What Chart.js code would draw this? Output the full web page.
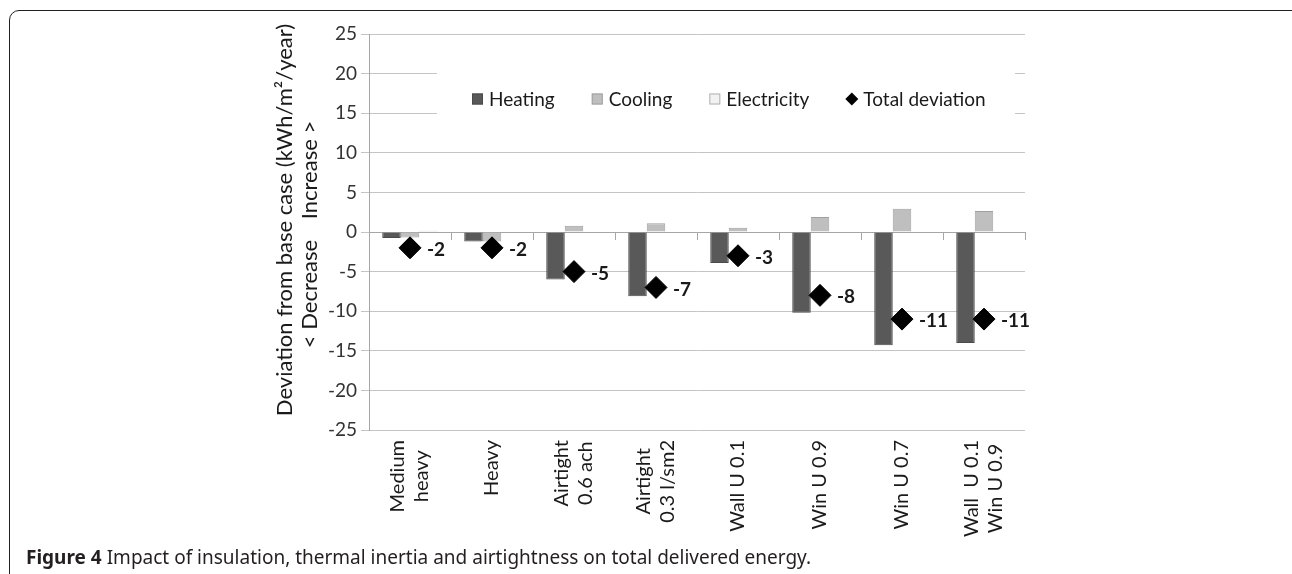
<!DOCTYPE html>
<html>
<head>
<meta charset="utf-8">
<script src="https://cdn.jsdelivr.net/npm/chart.js@4/dist/chart.umd.min.js"></script>
<style>
  html, body { margin: 0; padding: 0; background: #fff; }
  body { width: 1292px; height: 574px; overflow: hidden; position: relative; }
  .frame { position: absolute; left: 9px; top: 10px; width: 1300px; height: 620px;
           border: 1.6px solid #231f20; border-radius: 10px; box-sizing: border-box; }
  .plot { position: absolute; left: 0; top: 0; width: 1292px; height: 574px; }
  .caption { position: absolute; left: 26px; top: 545px; font-family: "Noto Sans", sans-serif;
             font-size: 19px; line-height: 24px; color: #231f20; white-space: nowrap; }
  .caption b { font-weight: 700; }
</style>
</head>
<body>
<div class="frame"></div>
<div class="plot"><canvas id="chart"></canvas></div>
<div class="caption"><b>Figure 4</b> Impact of insulation, thermal inertia and airtightness on total delivered energy.</div>
<script>
// Scenario categories (multi-line axis labels)
const categories = [
  ['Medium', 'heavy'],
  ['Heavy'],
  ['Airtight', '0.6 ach'],
  ['Airtight', '0.3 l/sm2'],
  ['Wall U 0.1'],
  ['Win U 0.9'],
  ['Win U 0.7'],
  ['Wall  U 0.1', 'Win U 0.9']
];

// Deviation from base case, kWh/m²/year
const heating        = [-0.75, -1.2, -6.0, -8.1, -3.9, -10.2, -14.3, -14.0];
const cooling        = [-0.7,  -1.2,  0.8,  1.1,  0.55,  1.9,   2.95,  2.65];
const electricity    = [ 0.15,  0.1,  0,    0,    0,     0,     0,     0];
const totalDeviation = [-2, -2, -5, -7, -3, -8, -11, -11];

// Value axis range and tick step
const yMin = -25;
const yMax = 25;
const yStep = 5;

const seriesNames = ['Heating', 'Cooling', 'Electricity', 'Total deviation'];
const yTitle = 'Deviation from base case (kWh/m\u00b2/year)';
const yTitleUp = 'Increase >';
const yTitleDown = '< Decrease';

const FONT = 'Lato, "Noto Sans", sans-serif';
const TEXT = '#1a1a1a';

// Rotated, centred multi-line category labels under the plot
const categoryLabels = {
  id: 'categoryLabels',
  afterDraw(chart) {
    const ctx = chart.ctx;
    const xs = chart.scales.x;
    const top = chart.chartArea.bottom + 10;
    const lh = 24;
    ctx.save();
    ctx.font = '20px ' + FONT;
    ctx.fillStyle = TEXT;
    ctx.textAlign = 'center';
    ctx.textBaseline = 'middle';
    chart.data.labels.forEach((lines, i) => {
      const px = xs.getPixelForValue(i);
      const n = lines.length;
      const maxW = Math.max(...lines.map(l => ctx.measureText(l).width));
      lines.forEach((line, k) => {
        ctx.save();
        ctx.translate(px + (k - (n - 1) / 2) * lh, top + maxW / 2);
        ctx.rotate(-Math.PI / 2);
        ctx.fillText(line, 0, 0);
        ctx.restore();
      });
    });
    ctx.restore();
  }
};

// Two-line value axis title
const valueTitle = {
  id: 'valueTitle',
  afterDraw(chart) {
    const ctx = chart.ctx;
    const ys = chart.scales.y;
    const zero = ys.getPixelForValue(0);
    ctx.save();
    ctx.font = '22px ' + FONT;
    ctx.fillStyle = TEXT;
    ctx.textAlign = 'center';
    ctx.textBaseline = 'middle';
    const put = (text, x, y) => {
      ctx.save();
      ctx.translate(x, y);
      ctx.rotate(-Math.PI / 2);
      ctx.fillText(text, 0, 0);
      ctx.restore();
    };
    put(yTitle, 285, 220);
    put(yTitleUp, 310, zero - 62);
    put(yTitleDown, 310, zero + 62);
    ctx.restore();
  }
};

// Legend drawn inside the plot on a white panel
const insideLegend = {
  id: 'insideLegend',
  afterDraw(chart) {
    const ctx = chart.ctx;
    ctx.save();
    ctx.fillStyle = '#ffffff';
    ctx.fillRect(437, 62, 578, 64);
    ctx.font = '19px ' + FONT;
    ctx.textBaseline = 'middle';
    ctx.textAlign = 'left';
    const cy = 99;
    let x = 472;
    const items = seriesNames.map(name => chart.data.datasets.find(d => d.label === name));
    items.forEach(ds => {
      if (ds.type === 'line') {
        const r = 6.5;
        const cx = x + 5.5;
        ctx.beginPath();
        ctx.moveTo(cx - r, cy); ctx.lineTo(cx, cy - r);
        ctx.lineTo(cx + r, cy); ctx.lineTo(cx, cy + r);
        ctx.closePath();
        ctx.fillStyle = ds.backgroundColor;
        ctx.fill();
        x += 11;
      } else {
        ctx.fillStyle = ds.backgroundColor;
        ctx.fillRect(x, cy - 5.5, 11, 11);
        ctx.strokeStyle = ds.borderColor;
        ctx.lineWidth = 1;
        ctx.strokeRect(x + 0.5, cy - 5, 10, 10);
        x += 11;
      }
      x += 6;
      ctx.fillStyle = TEXT;
      ctx.fillText(ds.label, x, cy + 1);
      x += ctx.measureText(ds.label).width + 37;
    });
    ctx.restore();
  }
};

// Value labels beside the total-deviation markers
const totalLabels = {
  id: 'totalLabels',
  afterDatasetsDraw(chart) {
    const ctx = chart.ctx;
    const idx = chart.data.datasets.findIndex(d => d.type === 'line');
    const meta = chart.getDatasetMeta(idx);
    ctx.save();
    ctx.font = 'bold 19px ' + FONT;
    ctx.fillStyle = TEXT;
    ctx.textAlign = 'left';
    ctx.textBaseline = 'middle';
    meta.data.forEach((pt, i) => {
      ctx.fillText(String(chart.data.datasets[idx].data[i]), pt.x + 17, pt.y + 2);
    });
    ctx.restore();
  }
};

new Chart(document.getElementById('chart'), {
  type: 'bar',
  data: {
    labels: categories,
    datasets: [
      {
        type: 'line', label: seriesNames[3], data: totalDeviation, order: 0,
        showLine: false, pointStyle: 'rectRot', pointRadius: 11, pointHoverRadius: 11,
        backgroundColor: '#000000', borderColor: '#000000', borderWidth: 1
      },
      {
        label: seriesNames[0], data: heating, order: 1,
        backgroundColor: '#595959', borderColor: '#4a4a4a', borderWidth: 1,
        categoryPercentage: 0.677, barPercentage: 1.0
      },
      {
        label: seriesNames[1], data: cooling, order: 1,
        backgroundColor: '#bfbfbf', borderColor: '#a0a0a0', borderWidth: 1,
        categoryPercentage: 0.677, barPercentage: 1.0
      },
      {
        label: seriesNames[2], data: electricity, order: 1,
        backgroundColor: '#f2f2f2', borderColor: '#b0b0b0', borderWidth: 1,
        categoryPercentage: 0.677, barPercentage: 1.0
      }
    ]
  },
  options: {
    responsive: true,
    maintainAspectRatio: false,
    animation: false,
    layout: { padding: { left: 0, top: 34, right: 267, bottom: 144 } },
    plugins: { legend: { display: false }, tooltip: { enabled: false } },
    scales: {
      x: {
        type: 'category',
        offset: true,
        grid: { display: false, drawTicks: false },
        border: { display: false },
        ticks: { display: false },
        afterFit(scale) { scale.height = 0; }
      },
      x0: {
        type: 'category',
        position: { y: 0 },
        offset: true,
        grid: { drawOnChartArea: false, drawTicks: true, tickLength: 7, color: '#a6a6a6', offset: true },
        border: { display: true, color: '#a6a6a6', width: 1 },
        ticks: { display: false }
      },
      y: {
        min: yMin,
        max: yMax,
        grid: { color: '#c4c4c4', tickLength: 8, lineWidth: 1 },
        border: { color: '#a6a6a6', width: 1 },
        ticks: {
          stepSize: yStep,
          padding: 4,
          color: '#333333',
          font: { family: FONT, size: 19 }
        },
        afterFit(scale) { scale.width = 369; }
      }
    }
  },
  plugins: [categoryLabels, valueTitle, insideLegend, totalLabels]
});
</script>
</body>
</html>
